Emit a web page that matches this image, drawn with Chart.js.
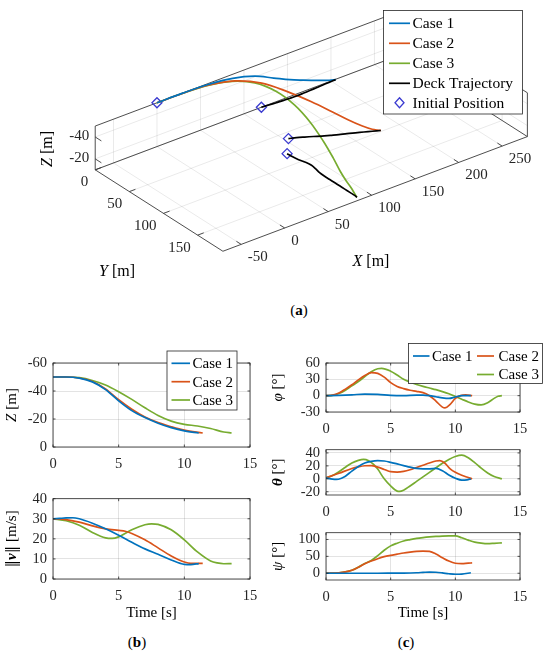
<!DOCTYPE html>
<html>
<head>
<meta charset="utf-8">
<script src="https://cdn.jsdelivr.net/npm/chart.js@4.4.0/dist/chart.umd.min.js"></script>
<style>
  body { margin: 0; background: #fff; width: 550px; height: 656px; position: relative; overflow: hidden; }
  canvas { position: absolute; }
  .cap { position: absolute; transform: translate(-50%, -50%); font: 15px 'Liberation Serif', serif; color: #000; }
</style>
</head>
<body>
<div class="cap" style="left:299px;top:310px">(<b>a</b>)</div>
<div class="cap" style="left:137px;top:642px">(<b>b</b>)</div>
<div class="cap" style="left:406px;top:642px">(<b>c</b>)</div>
<script>
// ---------- data ----------
const caseLabels = ['Case 1', 'Case 2', 'Case 3'];
const caseColors = ['#0072BD', '#D95319', '#77AC30'];
const deckLabel = 'Deck Trajectory';
const initLabel = 'Initial Position';

// (a) 3D trajectories [m]
const path1X = [0, 29.5, 58.8, 86.8, 112, 133.5, 152, 167.3, 180, 190, 198, 205];
const path1Y = [0, 0, 0.1, 0.3, 0.6, 0.9, 1, 1, 0.9, 0.6, 0.4, 0.5];
const path1Z = [-50, -50, -49.2, -46.5, -41, -33, -26, -21, -17, -13.8, -11.5, -10];
const path2X = [0, 29.7, 58.5, 85.1, 108.5, 127, 141.3, 151.7, 159.2, 165.9, 172.6, 179, 180];
const path2Y = [0, 0.3, 1.5, 5.7, 15.2, 29.2, 46.2, 63.1, 77.7, 88.5, 95.2, 98, 98.5];
const path2Z = [-50, -50, -49.3, -46.8, -41.5, -33.8, -27, -21.5, -17.5, -14.5, -12, -10.3, -10];
const path3X = [0, 29.5, 57.2, 81.5, 100.3, 112, 116.8, 115.9, 111, 104, 96.8, 91.8, 89.5, 88, 87];
const path3Y = [0, 0.3, 1.7, 5.9, 15.5, 31.5, 52.5, 77, 102, 125.5, 145, 160, 170.5, 178, 182];
const path3Z = [-50, -50, -49.5, -47.5, -44.3, -39.5, -34, -28, -22.5, -18.5, -16.2, -15, -13.2, -10.7, -10];
const deckZ = -10;
const deck1X = [120, 128, 136, 143, 151, 159, 166, 174, 182, 189, 197, 205];
const deck1Y = [0, 0.8, 1.6, 2.2, 2.6, 2.8, 2.6, 2.2, 1.8, 1.3, 0.9, 0.5];
const deck2X = [104, 111, 117.5, 124.5, 131, 138, 145, 152, 159, 166, 173, 180];
const deck2Y = [60, 63, 66.5, 70.5, 74.5, 78, 81.5, 84.5, 88, 91.5, 95, 98.5];
const deck3X = [86, 86.5, 87.5, 89.5, 90.5, 89.5, 88, 87.5, 87.5, 87.5, 87.5, 87.5, 87.5, 87.5, 87];
const deck3Y = [81, 88.5, 96, 103.5, 111, 118.5, 126, 133.5, 141, 148.5, 156, 163.5, 171, 178, 182];
const xTicks3d = [-50, 0, 50, 100, 150, 200, 250];
const yTicks3d = [0, 50, 100, 150];
const zTicks3d = [-40, -20];

// (b) altitude Z [m] and speed [m/s]
const tZ1 = [0, 1, 2, 3, 4, 5, 6, 7, 8, 9, 10, 11.1];
const zCase1 = [-50, -50, -49.2, -46.5, -41, -33, -26, -21, -17, -13.8, -11.5, -10];
const tZ2 = [0, 1, 2, 3, 4, 5, 6, 7, 8, 9, 10, 11.4];
const zCase2 = [-50, -50, -49.3, -46.8, -41.5, -33.8, -27, -21.5, -17.5, -14.5, -12, -10];
const tZ3 = [0, 1, 2, 3, 4, 5, 6, 7, 8, 9, 10, 11, 12, 13, 13.6];
const zCase3 = [-50, -50, -49.5, -47.5, -44.3, -39.5, -34, -28, -22.5, -18.5, -16.2, -15, -13.2, -10.7, -10];

const tV1 = [0, 0.5, 1, 1.5, 2, 3, 4, 5, 6, 7, 8, 9, 10, 10.5, 11.1];
const vCase1 = [30, 30.2, 30.4, 30.5, 30, 27.8, 25, 21.8, 18.3, 15, 12.3, 9.5, 7.3, 7.2, 7.7];
const tV2 = [0, 1, 2, 3, 4, 5, 5.5, 6, 7, 8, 9, 10, 10.5, 11.4];
const vCase2 = [30, 29.6, 28.3, 26.5, 25, 24.2, 23.8, 22.7, 19.5, 15.5, 11.5, 8.5, 7.8, 7.8];
const tV3 = [0, 1, 2, 3, 4, 4.5, 5, 6, 7, 7.5, 8, 9, 10, 11, 12, 12.5, 13, 13.6];
const vCase3 = [30, 29, 26.8, 23.2, 20.5, 20.2, 21, 24.5, 27, 27.5, 27.2, 24.5, 19.5, 13.5, 9, 8, 7.6, 7.7];

// (c) attitude angles [deg]
const tP1 = [0, 1, 2, 3, 4, 5, 6, 7, 7.5, 8, 8.5, 9, 9.5, 10, 10.5, 11.2];
const phiCase1 = [0, 0.5, 1.5, 3, 2.5, 0.5, 0, 1, 1, 0, -2, -4, -5, -2.5, 0, 0];
const tP2 = [0, 0.5, 1, 1.5, 2, 2.5, 3, 3.5, 4, 4.5, 5, 5.5, 6, 6.5, 7, 7.5, 8, 8.5, 9, 9.2, 9.6, 10, 10.4, 10.8, 11.3];
const phiCase2 = [0, 1, 5, 12, 20, 29, 37, 42.5, 41, 34, 24, 17, 13, 10, 8, 5.5, 0, -10, -21, -22.5, -16, -5, 0, 1.5, 0];
const tP3 = [0, 0.5, 1, 1.5, 2, 2.5, 3, 3.5, 4, 4.3, 5, 5.5, 6, 6.5, 7, 7.5, 8, 8.5, 9, 9.5, 10, 10.5, 11, 11.5, 12, 12.5, 13, 13.3, 13.6];
const phiCase3 = [0, 0.5, 4, 10, 18, 26, 35, 44, 49.5, 50, 45, 38, 30, 25, 20.5, 17, 14, 11, 7.5, 3.5, -1.5, -6.5, -11.5, -15.5, -17, -13, -5, -1, 0];

const tT1 = [0, 0.5, 0.8, 1.2, 1.5, 2, 2.5, 3, 3.5, 4, 4.5, 5, 5.5, 6, 6.5, 7, 7.5, 8, 8.5, 9, 9.5, 10, 10.5, 10.9, 11.2];
const thetaCase1 = [1.5, -0.5, -1, 1, 4, 12, 19, 24.5, 27, 28, 27.5, 25.5, 23, 20.5, 18, 16, 15.5, 15.5, 16, 12.5, 6, 1, -2, -1.5, 0];
const tT2 = [0, 1, 2, 2.5, 3, 3.5, 4, 4.5, 5, 5.5, 6, 6.5, 7, 7.5, 8, 8.5, 8.8, 9.2, 9.6, 10, 10.5, 11, 11.3];
const thetaCase2 = [1.5, 8.5, 16, 18.5, 20.2, 20.5, 18, 14.5, 11, 10.5, 11.5, 14, 17.5, 21, 24.5, 27.5, 28, 24, 15.5, 10, 5.5, 2, 0];
const tT3 = [0, 0.5, 1, 1.5, 2, 2.5, 2.9, 3.3, 3.7, 4, 4.5, 5, 5.5, 5.7, 6, 6.5, 7, 7.5, 8, 8.5, 9, 9.5, 10, 10.5, 11, 11.5, 12, 12.5, 13, 13.6];
const thetaCase3 = [1.5, 5, 11, 18, 24.5, 28.5, 30, 28, 22, 15, 0, -11, -19, -19.5, -17.5, -11, -4, 3, 10, 17, 24, 30, 34.5, 36.5, 32.5, 25, 16.5, 9, 3.5, 0];

const tS1 = [0, 2, 4, 5, 6, 7, 7.5, 8, 8.5, 9, 9.5, 10, 10.5, 11.2];
const psiCase1 = [0, 0, 0, 0.2, 0.5, 1.5, 2.5, 3.5, 3, 1, -1.5, -3, -2.5, 1.5];
const tS2 = [0, 1, 1.5, 2, 2.5, 3, 3.5, 4, 4.5, 5, 5.5, 6, 6.5, 7, 7.5, 8, 8.5, 9, 9.5, 10, 10.5, 11, 11.3];
const psiCase2 = [0, 1.5, 4, 9, 18, 28, 36, 43, 49, 53, 56.5, 60, 62.5, 64.5, 65.5, 64.5, 57, 46, 36, 29.5, 28.5, 30, 30.5];
const tS3 = [0, 1, 1.5, 2, 2.5, 3, 3.5, 4, 4.5, 5, 5.5, 6, 6.5, 7, 7.5, 8, 8.5, 9, 9.5, 10, 10.5, 11, 11.5, 12, 12.5, 13, 13.6];
const psiCase3 = [0, 1.5, 4, 9, 18, 29, 38, 52, 68, 81, 89, 95.5, 99.5, 103, 105.5, 107.5, 109, 110, 110.5, 110.5, 105, 98, 92, 89, 87.5, 88.5, 90];

const timeTicks = [0, 5, 10, 15];
const zTicks = [-60, -40, -20, 0];
const speedTicks = [0, 10, 20, 30, 40];
const phiTicks = [-30, 0, 30, 60];
const thetaTicks = [-20, 0, 20, 40];
const psiTicks = [0, 50, 100];

// ---------- helpers ----------
const FONT = "'Liberation Serif', 'Times New Roman', serif";
const INK = '#262626';
const GRID = 'rgba(0,0,0,0.11)';

function rich(ctx, parts, x, y, angle) {
  ctx.save();
  ctx.translate(x, y);
  ctx.rotate(angle || 0);
  ctx.textBaseline = 'middle';
  ctx.textAlign = 'left';
  let w = 0;
  parts.forEach(p => { ctx.font = p[1]; w += ctx.measureText(p[0]).width; });
  let cx = -w / 2;
  parts.forEach(p => { ctx.font = p[1]; ctx.fillText(p[0], cx, 0); cx += ctx.measureText(p[0]).width; });
  ctx.restore();
}

function legendBox(ctx, x, y, w, h) {
  ctx.fillStyle = '#fff';
  ctx.fillRect(x, y, w, h);
  ctx.strokeStyle = INK;
  ctx.lineWidth = 0.8;
  ctx.strokeRect(x, y, w, h);
}

function legendLine(ctx, x0, x1, y, color, label, tx, size) {
  ctx.strokeStyle = color;
  ctx.lineWidth = 1.7;
  ctx.beginPath(); ctx.moveTo(x0, y); ctx.lineTo(x1, y); ctx.stroke();
  ctx.fillStyle = '#000';
  ctx.font = size + 'px ' + FONT;
  ctx.textAlign = 'left'; ctx.textBaseline = 'middle';
  ctx.fillText(label, tx, y + 1);
}

// ---------- (a) 3D view, orthographic projection of the axes box ----------
const lim = { x: [-71, 279], y: [0, 187], z: [-50, -10] };
const corner = { o: [91, 170.7], top: [91, 125], y: [221.7, 255.7], xy: [533.3, 136] };

function project(X, Y, Z) {
  const fx = (X - lim.x[0]) / (lim.x[1] - lim.x[0]);
  const fy = (Y - lim.y[0]) / (lim.y[1] - lim.y[0]);
  const fz = (lim.z[1] - Z) / (lim.z[1] - lim.z[0]);
  const c = corner;
  return {
    x: c.o[0] + fx * (c.xy[0] - c.y[0]) + fy * (c.y[0] - c.o[0]) + fz * (c.top[0] - c.o[0]),
    y: c.o[1] + fx * (c.xy[1] - c.y[1]) + fy * (c.y[1] - c.o[1]) + fz * (c.top[1] - c.o[1])
  };
}

function projectPath(xs, ys, z) {
  return xs.map((x, i) => project(x, ys[i], Array.isArray(z) ? z[i] : z));
}

const initPoints = [
  project(path1X[0], path1Y[0], path1Z[0]),
  project(deck1X[0], deck1Y[0], deckZ),
  project(deck2X[0], deck2Y[0], deckZ),
  project(deck3X[0], deck3Y[0], deckZ)
];

const box3d = {
  id: 'box3d',
  beforeDatasetsDraw(chart) {
    const { ctx } = chart;
    const sx = chart.scales.x, sy = chart.scales.y;
    const P = (X, Y, Z) => { const p = project(X, Y, Z); return [sx.getPixelForValue(p.x), sy.getPixelForValue(p.y)]; };
    const seg = (a, b) => { ctx.moveTo(a[0], a[1]); ctx.lineTo(b[0], b[1]); };
    const [x0, x1] = lim.x, [y0, y1] = lim.y, zb = lim.z[1], zt = lim.z[0];
    ctx.save();
    // grid on the back planes
    ctx.strokeStyle = GRID; ctx.lineWidth = 0.8;
    ctx.beginPath();
    xTicks3d.forEach(x => { seg(P(x, y0, zb), P(x, y1, zb)); seg(P(x, y0, zb), P(x, y0, zt)); });
    yTicks3d.forEach(y => { seg(P(x0, y, zb), P(x1, y, zb)); seg(P(x1, y, zb), P(x1, y, zt)); });
    zTicks3d.forEach(z => { seg(P(x0, y0, z), P(x1, y0, z)); seg(P(x1, y0, z), P(x1, y1, z)); });
    ctx.stroke();
    // box edges
    ctx.strokeStyle = '#3a3a3a'; ctx.lineWidth = 0.9;
    ctx.beginPath();
    seg(P(x0, y0, zb), P(x0, y1, zb)); seg(P(x0, y1, zb), P(x1, y1, zb));
    seg(P(x1, y1, zb), P(x1, y0, zb)); seg(P(x1, y0, zb), P(x0, y0, zb));
    seg(P(x0, y0, zb), P(x0, y0, zt)); seg(P(x0, y0, zt), P(x1, y0, zt));
    seg(P(x1, y0, zt), P(x1, y0, zb)); seg(P(x1, y0, zt), P(x1, y1, zt));
    seg(P(x1, y1, zt), P(x1, y1, zb));
    // tick marks
    xTicks3d.forEach(x => seg(P(x, y1, zb), P(x, y1 - 7, zb)));
    yTicks3d.forEach(y => seg(P(x0, y, zb), P(x0 + 7, y, zb)));
    zTicks3d.forEach(z => seg(P(x0, y0, z), P(x0, y0 + 9, z)));
    ctx.stroke();
    // tick labels
    ctx.fillStyle = INK;
    ctx.font = '15px ' + FONT;
    ctx.textBaseline = 'middle';
    ctx.textAlign = 'left';
    xTicks3d.forEach(x => { const p = P(x, y1, zb); ctx.fillText(String(x), p[0] + 6.5, p[1] + 13); });
    ctx.textAlign = 'right';
    yTicks3d.forEach(y => { const p = P(x0, y, zb); ctx.fillText(String(y), p[0] - 7, p[1] + 12.5); });
    zTicks3d.forEach(z => { const p = P(x0, y0, z); ctx.fillText(String(z), p[0] - 6, p[1] - 1); });
    // axis titles
    ctx.fillStyle = '#000';
    rich(ctx, [['X', 'italic 16px ' + FONT], [' [m]', '16px ' + FONT]], 371, 262);
    rich(ctx, [['Y', 'italic 16px ' + FONT], [' [m]', '16px ' + FONT]], 117, 272);
    rich(ctx, [['Z', 'italic 16px ' + FONT], [' [m]', '16px ' + FONT]], 48, 149, -Math.PI / 2);
    ctx.restore();
  },
  afterDraw(chart) {
    const { ctx } = chart;
    ctx.save();
    legendBox(ctx, 383.5, 10.5, 139, 103.5);
    const rowsY = [23.3, 43.3, 63.3, 83.3, 102.7];
    caseLabels.forEach((l, i) => legendLine(ctx, 389, 410, rowsY[i], caseColors[i], l, 412.5, 15.5));
    legendLine(ctx, 389, 410, rowsY[3], '#000', deckLabel, 412.5, 15.5);
    ctx.strokeStyle = '#3b3bd0'; ctx.lineWidth = 1.3;
    ctx.beginPath();
    ctx.moveTo(399.5, rowsY[4] - 5); ctx.lineTo(404, rowsY[4]); ctx.lineTo(399.5, rowsY[4] + 5); ctx.lineTo(395, rowsY[4]); ctx.closePath();
    ctx.stroke();
    ctx.fillStyle = '#000'; ctx.font = '15.5px ' + FONT; ctx.textAlign = 'left'; ctx.textBaseline = 'middle';
    ctx.fillText(initLabel, 412.5, rowsY[4] + 1);
    ctx.restore();
  }
};

const cv3 = document.createElement('canvas');
cv3.width = 550; cv3.height = 300;
cv3.style.left = '0px'; cv3.style.top = '0px'; cv3.style.width = '550px'; cv3.style.height = '300px';
document.body.appendChild(cv3);

const line3d = (pts, color, label) => ({
  label, data: pts, showLine: true, borderColor: color, backgroundColor: color,
  borderWidth: 1.7, pointRadius: 0, tension: 0.35
});

new Chart(cv3, {
  type: 'scatter',
  data: {
    datasets: [
      line3d(projectPath(deck1X, deck1Y, deckZ), '#000', deckLabel),
      line3d(projectPath(deck2X, deck2Y, deckZ), '#000', deckLabel),
      line3d(projectPath(deck3X, deck3Y, deckZ), '#000', deckLabel),
      line3d(projectPath(path1X, path1Y, path1Z), caseColors[0], caseLabels[0]),
      line3d(projectPath(path2X, path2Y, path2Z), caseColors[1], caseLabels[1]),
      line3d(projectPath(path3X, path3Y, path3Z), caseColors[2], caseLabels[2]),
      {
        label: initLabel, data: initPoints, showLine: false, pointStyle: 'rectRot',
        pointRadius: 5, pointBorderWidth: 1.3, borderColor: '#3b3bd0', backgroundColor: 'rgba(0,0,0,0)'
      }
    ]
  },
  options: {
    responsive: false, animation: false,
    layout: { padding: 0 },
    plugins: { legend: { display: false }, tooltip: { enabled: false } },
    scales: {
      x: { type: 'linear', min: 0, max: 550, display: false },
      y: { type: 'linear', min: 0, max: 300, reverse: true, display: false }
    }
  },
  plugins: [box3d]
});

// ---------- (b), (c) time histories ----------
function plot2d(cfg) {
  const [bl, bt, bw, bh] = cfg.box;
  const padTop = cfg.padTop, padRight = cfg.padRight, padBottom = cfg.xTitle ? 26 : 0;
  const left = bl - 56, top = bt - padTop;
  const W = 56 + bw + padRight, H = padTop + bh + 34 + padBottom;
  const cv = document.createElement('canvas');
  cv.width = W; cv.height = H;
  cv.style.left = left + 'px'; cv.style.top = top + 'px';
  cv.style.width = W + 'px'; cv.style.height = H + 'px';
  document.body.appendChild(cv);

  const frame = {
    id: 'frame_' + cfg.id,
    afterDraw(chart) {
      const { ctx, chartArea: a, scales } = chart;
      ctx.save();
      ctx.strokeStyle = INK; ctx.lineWidth = 0.8;
      ctx.strokeRect(a.left, a.top, a.right - a.left, a.bottom - a.top);
      ctx.beginPath();
      scales.x.ticks.forEach(t => {
        const px = scales.x.getPixelForValue(t.value);
        ctx.moveTo(px, a.bottom); ctx.lineTo(px, a.bottom - 2.5);
        ctx.moveTo(px, a.top); ctx.lineTo(px, a.top + 2.5);
      });
      scales.y.ticks.forEach(t => {
        const py = scales.y.getPixelForValue(t.value);
        ctx.moveTo(a.left, py); ctx.lineTo(a.left + 2.5, py);
        ctx.moveTo(a.right, py); ctx.lineTo(a.right - 2.5, py);
      });
      ctx.stroke();
      ctx.fillStyle = '#000';
      rich(ctx, cfg.yTitle, cfg.yTitleX - left, (a.top + a.bottom) / 2, -Math.PI / 2);
      if (cfg.xTitle) rich(ctx, [['Time [s]', '15px ' + FONT]], (a.left + a.right) / 2, 612.7 - top);
      if (cfg.legend) { ctx.translate(-left, -top); cfg.legend(ctx); }
      ctx.restore();
    }
  };

  const tickFont = { family: FONT, size: 14.5 };
  new Chart(cv, {
    type: 'line',
    data: {
      datasets: cfg.series.map((s, i) => ({
        label: caseLabels[i],
        data: s[0].map((t, k) => ({ x: t, y: s[1][k] })),
        borderColor: caseColors[i], borderWidth: 1.7, pointRadius: 0,
        cubicInterpolationMode: 'monotone', fill: false
      }))
    },
    options: {
      responsive: false, animation: false,
      layout: { padding: { left: 0, top: padTop, right: padRight, bottom: padBottom } },
      plugins: { legend: { display: false }, tooltip: { enabled: false } },
      scales: {
        x: {
          type: 'linear', min: 0, max: 15,
          afterBuildTicks: s => { s.ticks = timeTicks.map(v => ({ value: v })); },
          afterFit: s => { s.height = 34; },
          grid: { color: GRID, drawTicks: false },
          border: { display: false },
          ticks: { padding: 8, color: INK, font: tickFont, maxRotation: 0, autoSkip: false, callback: v => String(v) }
        },
        y: {
          type: 'linear', min: cfg.yMin, max: cfg.yMax, reverse: !!cfg.reverse,
          afterBuildTicks: s => { s.ticks = cfg.yTicks.map(v => ({ value: v })); },
          afterFit: s => { s.width = 56; },
          grid: { color: GRID, drawTicks: false },
          border: { display: false },
          ticks: { padding: 6, color: INK, font: tickFont, autoSkip: false, callback: v => String(v) }
        }
      }
    },
    plugins: [frame]
  });
}

const it = (w) => 'italic ' + w + 'px ' + FONT;
const rg = (w) => w + 'px ' + FONT;
const bar = "15px 'DejaVu Serif', serif";

plot2d({
  id: 'z', box: [53, 363, 197, 84], padTop: 23, padRight: 20,
  yMin: -60, yMax: 0, reverse: true, yTicks: zTicks,
  series: [[tZ1, zCase1], [tZ2, zCase2], [tZ3, zCase3]],
  yTitle: [['Z', it(15)], [' [m]', rg(15)]], yTitleX: 12,
  legend: ctx => {
    legendBox(ctx, 167, 351, 70, 59);
    const ys = [363.3, 381.7, 400];
    caseLabels.forEach((l, i) => legendLine(ctx, 171.5, 190, ys[i], caseColors[i], l, 192.5, 15));
  }
});

plot2d({
  id: 'v', box: [53, 496, 197, 83], padTop: 12, padRight: 20, xTitle: true,
  yMin: 0, yMax: 40, yTicks: speedTicks,
  series: [[tV1, vCase1], [tV2, vCase2], [tV3, vCase3]],
  yTitle: [['\u2016', bar], ['v', 'bold italic 15px ' + FONT], ['\u2016', bar], [' [m/s]', rg(15)]], yTitleX: 12
});

plot2d({
  id: 'phi', box: [326, 363, 194, 49], padTop: 28, padRight: 30,
  yMin: -30, yMax: 60, yTicks: phiTicks,
  series: [[tP1, phiCase1], [tP2, phiCase2], [tP3, phiCase3]],
  yTitle: [['\u03C6', it(15)], [' [\u00B0]', rg(15)]], yTitleX: 278,
  legend: ctx => {
    legendBox(ctx, 408.5, 343.5, 134, 40);
    legendLine(ctx, 413, 429.5, 356, caseColors[0], caseLabels[0], 432, 15);
    legendLine(ctx, 477, 494, 356, caseColors[1], caseLabels[1], 498.5, 15);
    legendLine(ctx, 477, 494, 374.5, caseColors[2], caseLabels[2], 498.5, 15);
  }
});

plot2d({
  id: 'theta', box: [326, 447, 194, 48], padTop: 12, padRight: 30,
  yMin: -25, yMax: 45, yTicks: thetaTicks,
  series: [[tT1, thetaCase1], [tT2, thetaCase2], [tT3, thetaCase3]],
  yTitle: [['\u03B8', 'bold italic 15px ' + FONT], [' [\u00B0]', rg(15)]], yTitleX: 278
});

plot2d({
  id: 'psi', box: [326, 530, 194, 50], padTop: 12, padRight: 30, xTitle: true,
  yMin: -20, yMax: 120, yTicks: psiTicks,
  series: [[tS1, psiCase1], [tS2, psiCase2], [tS3, psiCase3]],
  yTitle: [['\u03C8', it(15)], [' [\u00B0]', rg(15)]], yTitleX: 278
});
</script>
</body>
</html>
